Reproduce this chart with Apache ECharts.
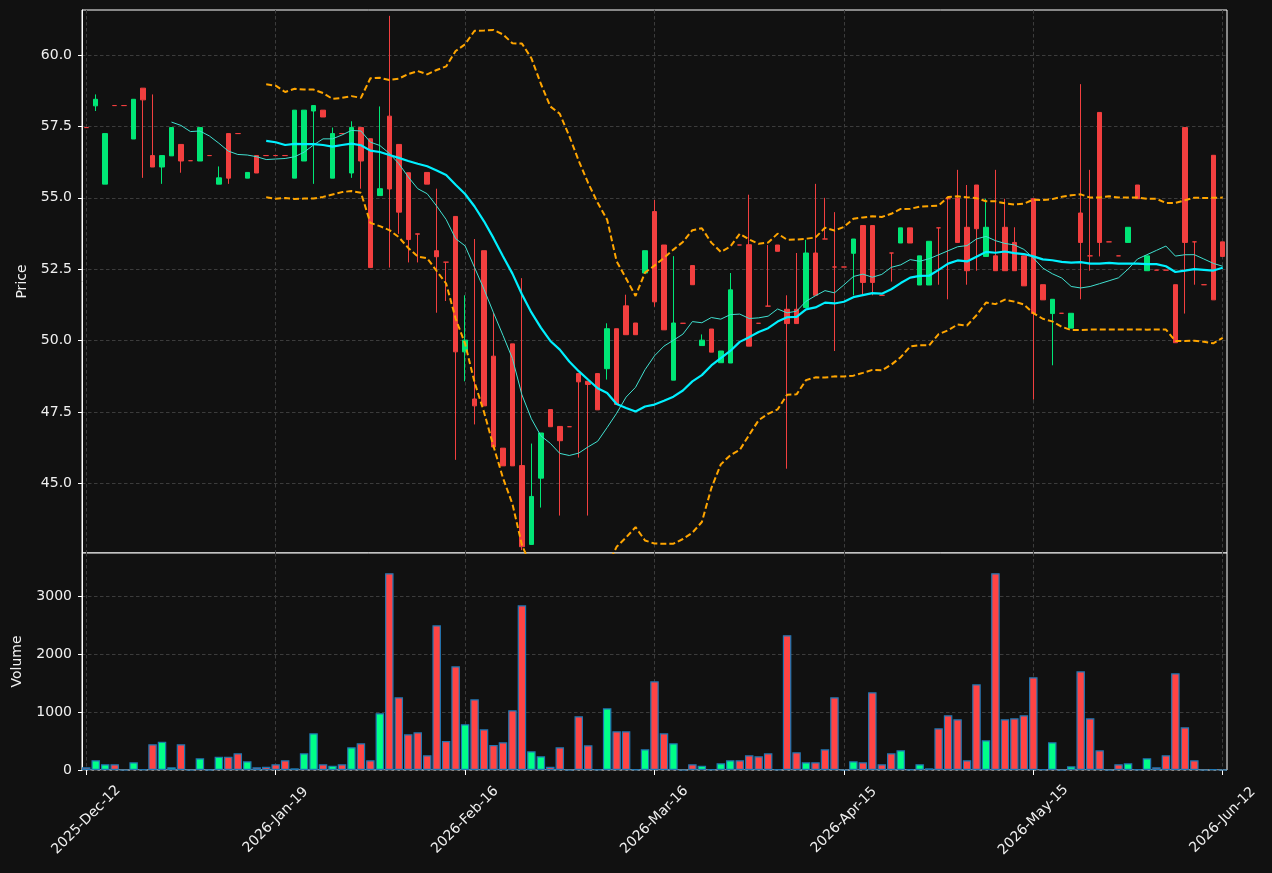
<!DOCTYPE html>
<html>
<head>
<meta charset="utf-8">
<title>Price / Volume</title>
<script src="https://cdn.jsdelivr.net/npm/echarts@6/dist/echarts.min.js"></script>
<style>
    html, body { margin: 0; padding: 0; background: #111111; }
    #chart { width: 1272px; height: 873px; }
</style>
</head>
<body>
<div id="chart"></div>
<script>
// tick labels on the bar index axis (one every 20 bars)
const tickIndex = [0, 20, 40, 60, 80, 100, 120]
const tickLabels = ["2025-Dec-12", "2026-Jan-19", "2026-Feb-16", "2026-Mar-16", "2026-Apr-15", "2026-May-15", "2026-Jun-12"]
const priceTicks = [45, 47.5, 50, 52.5, 55, 57.5, 60]
const volumeTicks = [0, 1000, 2000, 3000]

// OHLC, one entry per bar
const opens = [
    57.46, 58.22, 55.48, 58.23, 58.23, 57.06, 58.84, 56.48, 56.08, 56.47,
    56.87, 56.30, 56.29, 56.48, 55.48, 57.25, 57.25, 55.69, 56.48, 56.48,
    56.48, 56.48, 55.69, 56.29, 58.04, 58.07, 55.69, 57.25, 55.87, 57.46,
    57.07, 55.08, 57.86, 56.87, 55.88, 53.74, 55.89, 53.15, 52.75, 54.35,
    49.61, 47.96, 53.15, 49.46, 46.24, 49.89, 45.63, 42.87, 45.19, 47.59,
    47.00, 46.99, 48.85, 48.58, 48.85, 49.02, 50.42, 51.22, 50.62, 52.37,
    54.52, 53.35, 48.62, 50.61, 52.63, 49.83, 50.41, 49.23, 49.22, 53.35,
    53.36, 50.61, 51.21, 53.35, 51.10, 51.10, 51.16, 53.07, 53.56, 52.58,
    52.58, 53.06, 54.03, 54.03, 51.59, 53.07, 53.42, 53.95, 51.95, 51.95,
    53.95, 54.97, 54.99, 53.97, 55.45, 52.95, 52.97, 53.97, 53.44, 52.97,
    54.97, 51.96, 50.95, 50.96, 50.44, 54.47, 52.97, 57.99, 53.46, 52.97,
    53.44, 55.45, 52.45, 52.47, 52.47, 51.96, 57.46, 53.46, 51.96, 56.49,
    53.46
]
const closes = [
    57.46, 58.45, 57.25, 58.23, 58.23, 58.45, 58.43, 56.08, 56.48, 57.46,
    56.29, 56.30, 57.46, 56.48, 55.70, 55.69, 57.25, 55.89, 55.87, 56.48,
    56.48, 56.48, 58.07, 58.07, 58.23, 57.83, 57.25, 57.25, 57.46, 56.29,
    52.56, 55.32, 55.31, 54.50, 53.54, 53.73, 55.48, 52.94, 52.75, 49.61,
    50.02, 47.72, 47.72, 46.28, 45.62, 45.62, 42.79, 44.55, 46.77, 46.99,
    46.50, 46.99, 48.56, 48.47, 47.58, 50.42, 47.77, 50.21, 50.21, 53.15,
    51.36, 50.38, 50.62, 50.61, 51.96, 50.02, 49.60, 49.64, 51.78, 53.35,
    49.81, 50.61, 51.21, 53.13, 50.60, 50.60, 53.07, 51.59, 53.56, 52.58,
    52.58, 53.56, 52.04, 52.04, 51.59, 53.07, 53.95, 53.42, 52.97, 53.48,
    53.95, 54.97, 53.44, 52.45, 53.92, 53.97, 52.45, 52.45, 52.45, 51.92,
    50.95, 51.43, 51.45, 50.96, 50.96, 53.44, 52.97, 53.44, 53.46, 52.97,
    53.97, 54.97, 52.97, 52.47, 52.47, 49.93, 53.44, 53.46, 51.96, 51.43,
    52.95
]
const highs = [
    57.46, 58.62, 57.25, 58.23, 58.23, 58.45, 58.84, 58.62, 56.48, 57.46,
    56.87, 56.30, 57.46, 56.48, 56.10, 57.25, 57.25, 55.89, 56.48, 56.48,
    56.48, 56.48, 58.07, 58.07, 58.23, 58.07, 57.46, 57.25, 57.68, 57.46,
    57.07, 58.20, 61.37, 56.87, 55.88, 53.74, 55.89, 55.32, 52.75, 54.35,
    51.59, 53.56, 53.15, 50.98, 46.24, 49.89, 52.19, 46.40, 46.77, 47.59,
    47.00, 46.99, 48.85, 48.58, 48.85, 50.61, 50.42, 51.61, 50.62, 53.15,
    54.93, 53.35, 52.96, 50.61, 52.63, 50.22, 50.41, 49.64, 52.37, 53.35,
    55.11, 50.61, 53.35, 53.35, 51.59, 53.07, 53.53, 55.49, 55.00, 54.50,
    52.58, 53.56, 54.03, 54.03, 51.59, 53.07, 53.95, 53.95, 52.97, 53.48,
    53.95, 54.97, 55.98, 55.45, 55.45, 54.97, 55.98, 54.97, 53.97, 52.97,
    54.97, 51.96, 51.45, 50.96, 50.96, 58.98, 55.98, 57.99, 53.46, 52.97,
    53.97, 55.45, 52.97, 52.47, 52.47, 51.96, 57.46, 53.46, 51.96, 56.49,
    53.46
]
const lows = [
    57.46, 58.04, 55.48, 58.23, 58.23, 57.06, 55.70, 56.08, 55.49, 56.47,
    55.88, 56.30, 56.29, 56.48, 55.48, 55.49, 57.25, 55.69, 55.87, 56.48,
    56.48, 56.48, 55.69, 56.29, 55.49, 57.83, 55.69, 57.25, 55.70, 55.32,
    52.56, 55.08, 52.56, 53.74, 52.74, 52.74, 55.48, 50.98, 51.39, 45.83,
    48.58, 47.07, 47.72, 46.28, 45.62, 45.62, 42.67, 42.87, 44.16, 46.99,
    43.88, 46.99, 45.91, 43.88, 47.58, 48.64, 47.77, 50.21, 50.21, 52.37,
    51.19, 50.38, 48.62, 50.61, 51.96, 49.83, 49.60, 49.23, 49.22, 53.35,
    49.81, 50.61, 51.21, 53.13, 45.52, 50.60, 51.16, 51.59, 53.56, 49.64,
    52.58, 51.59, 51.63, 51.59, 51.59, 52.07, 53.42, 53.42, 51.95, 51.95,
    51.96, 51.45, 53.44, 51.96, 52.45, 52.95, 52.45, 52.45, 52.45, 51.92,
    47.94, 51.43, 49.14, 50.96, 50.44, 51.45, 52.45, 52.95, 53.46, 52.97,
    53.44, 54.97, 52.45, 52.47, 52.47, 49.93, 50.95, 51.96, 51.96, 51.43,
    52.95
]
const volumes = [
    46, 167, 98, 98, 0, 132, 10, 443, 489, 46,
    443, 0, 201, 5, 230, 230, 287, 149, 46, 57,
    98, 167, 29, 287, 632, 98, 75, 98, 391, 460,
    167, 977, 3391, 1253, 615, 649, 253, 2494, 500, 1787,
    787, 1218, 701, 431, 477, 1028, 2839, 322, 236, 57,
    391, 0, 925, 425, 10, 1063, 667, 667, 10, 356,
    1529, 632, 460, 0, 98, 75, 10, 115, 167, 167,
    253, 236, 287, 10, 2322, 305, 132, 132, 356, 1253,
    0, 149, 132, 1339, 98, 287, 339, 10, 98, 29,
    718, 943, 874, 167, 1477, 511, 3391, 874, 891, 943,
    1598, 10, 477, 0, 63, 1701, 891, 339, 0, 98,
    115, 10, 201, 46, 253, 1667, 736, 167, 0, 10,
    0
]

const upCandle = "#00e676"
const downCandle = "#f23f3f"
const upVol = "#00ff88"
const downVol = "#ff4444"
const textColor = "#f0f0f0"
const gridLine = { color: "#3c3c3c", type: [3.5, 2.5], width: 1 }

// moving average and bollinger bands (20, 2) from the closes
function sma(arr, p) {
    return arr.map((_, i) => {
        if (i < p - 1) return null
        let s = 0
        for (let k = i - p + 1; k <= i; k++) s += arr[k]
        return s / p
    })
}
function band(arr, p, mult, sign) {
    const mid = sma(arr, p)
    return arr.map((_, i) => {
        if (mid[i] === null) return null
        let s = 0
        for (let k = i - p + 1; k <= i; k++) s += (arr[k] - mid[i]) ** 2
        return mid[i] + sign * mult * Math.sqrt(s / (p - 1))
    })
}
const pts = (arr) => arr.map((v, i) => [i, v]).filter((d) => d[1] !== null)

const ma10 = sma(closes, 10)
const ma20 = sma(closes, 20)
const upper = band(closes, 20, 2, 1)
const lower = band(closes, 20, 2, -1)

const candles = closes.map((c, i) => [i, opens[i], c, lows[i], highs[i]])
const volBars = volumes.map((v, i) => ({
    value: [i, v],
    itemStyle: { color: closes[i] > opens[i] ? upVol : downVol },
}))

const chart = echarts.init(document.getElementById("chart"), null, { renderer: "canvas" })

const xBase = {
    type: "value",
    min: -0.45,
    max: 120.45,
    axisLine: { show: false },
    splitLine: { show: true, lineStyle: gridLine },
}

const option = {
    backgroundColor: "#111111",
    animation: false,
    textStyle: { fontFamily: "DejaVu Sans" },
    grid: [
        { left: 82, right: 45, top: 10, height: 543, show: true, borderColor: "#ffffff", borderWidth: 1, backgroundColor: "#111111" },
        { left: 82, right: 45, top: 553, height: 217, show: true, borderColor: "#ffffff", borderWidth: 1, backgroundColor: "#111111" },
    ],
    xAxis: [
        {
            ...xBase,
            gridIndex: 0,
            axisTick: { show: false, customValues: tickIndex },
            axisLabel: { show: false, customValues: tickIndex },
        },
        {
            ...xBase,
            gridIndex: 1,
            axisTick: { show: true, customValues: tickIndex, length: 5, lineStyle: { color: "#ffffff" } },
            axisLabel: {
                customValues: tickIndex,
                rotate: 45,
                align: "center",
                verticalAlign: "middle",
                margin: 50,
                color: textColor,
                fontSize: 14,
                fontFamily: "DejaVu Sans",
                formatter: (v) => tickLabels[tickIndex.indexOf(Math.round(v))] || "",
            },
        },
    ],
    yAxis: [
        {
            type: "value",
            gridIndex: 0,
            min: 42.57,
            max: 61.575,
            name: "Price",
            nameLocation: "middle",
            nameGap: 53,
            nameTextStyle: { color: textColor, fontSize: 14, fontFamily: "DejaVu Sans" },
            axisLine: { show: true, onZero: false, lineStyle: { color: "#ffffff" } },
            axisTick: { show: true, length: 4, customValues: priceTicks, lineStyle: { color: "#ffffff" } },
            axisLabel: { customValues: priceTicks, color: textColor, fontSize: 14, margin: 10, formatter: (v) => v.toFixed(1) },
            splitLine: { show: true, lineStyle: gridLine },
        },
        {
            type: "value",
            gridIndex: 1,
            min: 0,
            max: 3740,
            name: "Volume",
            nameLocation: "middle",
            nameGap: 58,
            nameTextStyle: { color: textColor, fontSize: 14, fontFamily: "DejaVu Sans" },
            axisLine: { show: true, onZero: false, lineStyle: { color: "#ffffff" } },
            axisTick: { show: true, length: 4, customValues: volumeTicks, lineStyle: { color: "#ffffff" } },
            axisLabel: { customValues: volumeTicks, color: textColor, fontSize: 14, margin: 10, formatter: (v) => String(Math.round(v)) },
            splitLine: { show: true, lineStyle: gridLine },
        },
    ],
    series: [
        {
            type: "candlestick",
            name: "OHLC",
            xAxisIndex: 0,
            yAxisIndex: 0,
            data: candles,
            encode: { x: 0, y: [1, 2, 3, 4] },
            barWidth: 5,
            itemStyle: {
                color: upCandle,
                color0: downCandle,
                borderColor: upCandle,
                borderColor0: downCandle,
                borderColorDoji: downCandle,
                borderWidth: 1,
            },
        },
        {
            type: "line",
            name: "MA10",
            data: pts(ma10),
            showSymbol: false,
            lineStyle: { color: "#40e0d0", width: 1 },
            z: 3,
        },
        {
            type: "line",
            name: "MA20",
            data: pts(ma20),
            showSymbol: false,
            lineStyle: { color: "#00f0ff", width: 2.2 },
            z: 4,
        },
        {
            type: "line",
            name: "Upper",
            data: pts(upper),
            showSymbol: false,
            lineStyle: { color: "#ffa500", width: 2, type: [6, 3] },
            z: 4,
        },
        {
            type: "line",
            name: "Lower",
            data: pts(lower),
            showSymbol: false,
            lineStyle: { color: "#ffa500", width: 2, type: [6, 3] },
            z: 4,
        },
        {
            type: "bar",
            name: "Volume",
            xAxisIndex: 1,
            yAxisIndex: 1,
            data: volBars,
            barWidth: 8.5,
            itemStyle: { borderColor: "#1f77b4", borderWidth: 1.2 },
        },
    ],
}
chart.setOption(option)
</script>
</body>
</html>
